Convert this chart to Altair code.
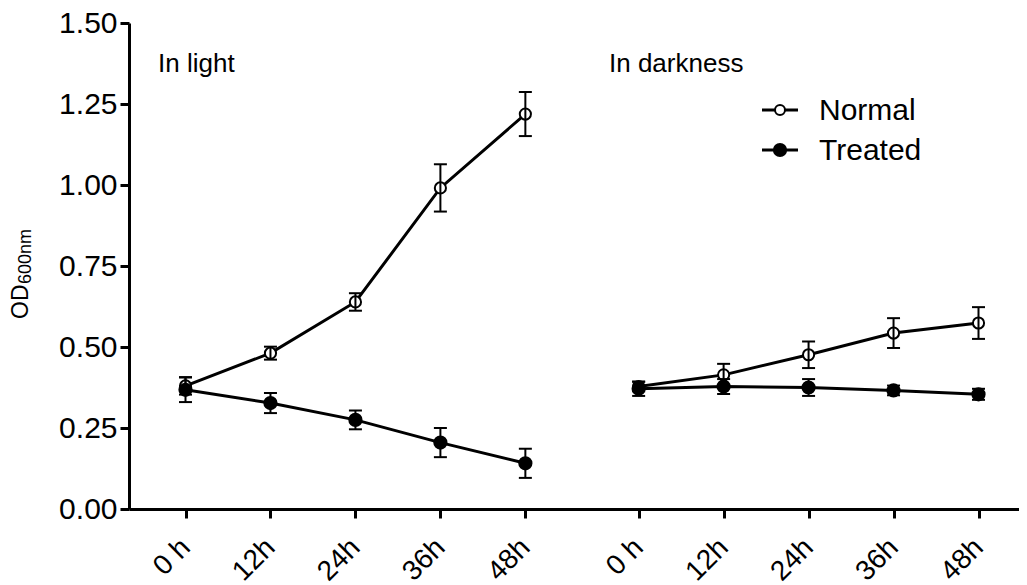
import json
import altair as alt
import pandas as pd

# ---------------- data ----------------
times = ["0 h", "12h", "24h", "36h", "48h"]
conditions = ["In light", "In darkness"]
series = ["Normal", "Treated"]

light_normal = [0.380, 0.481, 0.639, 0.991, 1.219]
light_normal_err = [0.027, 0.020, 0.027, 0.073, 0.068]
light_treated = [0.368, 0.327, 0.275, 0.205, 0.141]
light_treated_err = [0.038, 0.031, 0.029, 0.045, 0.045]
dark_normal = [0.378, 0.414, 0.476, 0.543, 0.574]
dark_normal_err = [0.015, 0.034, 0.041, 0.046, 0.049]
dark_treated = [0.371, 0.378, 0.375, 0.366, 0.354]
dark_treated_err = [0.022, 0.023, 0.026, 0.015, 0.017]

y_ticks = [0.0, 0.25, 0.5, 0.75, 1.0, 1.25, 1.5]

table = {
    ("In light", "Normal"): (light_normal, light_normal_err),
    ("In light", "Treated"): (light_treated, light_treated_err),
    ("In darkness", "Normal"): (dark_normal, dark_normal_err),
    ("In darkness", "Treated"): (dark_treated, dark_treated_err),
}

# layout: gap (in tick spacings) between the last light time and first dark time
GROUP_GAP = 4.0 / 3.0
GROUP_STEP = len(times) - 1 + GROUP_GAP

rows = []
for s in series:
    for ci, cond in enumerate(conditions):
        vals, errs = table[(cond, s)]
        for i, (v, e) in enumerate(zip(vals, errs)):
            rows.append({
                "condition": cond,
                "series": s,
                "key": cond + "|" + s,
                "time": times[i],
                "pos": i + ci * GROUP_STEP,
                "od": v,
                "err": e,
            })
df = pd.DataFrame(rows)

tick_vals = sorted(df["pos"].unique().tolist())
label_expr = (
    json.dumps(times)
    + "[datum.value < %f ? round(datum.value) : round(datum.value - %f)]"
    % (len(times) - 0.5, GROUP_STEP)
)

FONT = "Liberation Sans"
W, H = 890, 486

xscale = alt.Scale(domain=[-0.665, 9.81], nice=False, zero=False)
yscale = alt.Scale(domain=[0, 1.5], nice=False, zero=True)

xaxis = alt.Axis(
    values=tick_vals, labelExpr=label_expr, labelAngle=-45, labelFontSize=28,
    labelAlign="right", labelBaseline="middle",
    labelFont=FONT, labelColor="black", domainColor="black", domainWidth=3,
    tickColor="black", tickWidth=3, tickSize=9, labelPadding=25, grid=False,
    title=None, labelOverlap=False, labelFlush=False,
)
yaxis = alt.Axis(
    values=y_ticks, format=".2f", labelFontSize=30, labelFont=FONT,
    labelColor="black", domainColor="black", domainWidth=3, tickColor="black",
    tickWidth=3, tickSize=9, labelPadding=3, grid=False, title=None,
    labelFlush=False, labelOverlap=False,
)

base = alt.Chart(df)
X = alt.X("pos:Q", scale=xscale, axis=xaxis)
Y = alt.Y("od:Q", scale=yscale, axis=yaxis)

lines = base.mark_line(color="black", strokeWidth=3).encode(
    x=X, y=Y, detail="key:N", order="pos:Q"
)

errbars = base.transform_calculate(
    lo="datum.od - datum.err", hi="datum.od + datum.err"
)
err_v = errbars.mark_rule(color="black", strokeWidth=2).encode(
    x=alt.X("pos:Q", scale=xscale), y=alt.Y("lo:Q", scale=yscale), y2="hi:Q"
)
cap_lo = errbars.mark_rule(color="black", strokeWidth=2, xOffset=-6.5, x2Offset=6.5).encode(
    x=alt.X("pos:Q", scale=xscale), x2=alt.X2("pos"), y=alt.Y("lo:Q", scale=yscale)
)
cap_hi = errbars.mark_rule(color="black", strokeWidth=2, xOffset=-6.5, x2Offset=6.5).encode(
    x=alt.X("pos:Q", scale=xscale), x2=alt.X2("pos"), y=alt.Y("hi:Q", scale=yscale)
)

fill_scale = alt.Scale(domain=series, range=["white", "black"])
points = base.mark_point(
    shape="circle", filled=True, stroke="black", strokeWidth=2, opacity=1
).encode(
    x=alt.X("pos:Q", scale=xscale), y=alt.Y("od:Q", scale=yscale),
    fill=alt.Fill("series:N", scale=fill_scale, legend=None),
    size=alt.Size("series:N", scale=alt.Scale(domain=series, range=[125, 150]), legend=None),
)

# ---------------- annotations ----------------
def label(txt, x, y, size, **kw):
    return alt.Chart(pd.DataFrame({"t": [txt]})).mark_text(
        font=FONT, fontSize=size, color="black", align="left", **kw
    ).encode(text="t:N", x=alt.value(x), y=alt.value(y))

cond_labels = label(conditions[0], 29, 49, 26, baseline="alphabetic") + \
    label(conditions[1], 480, 49, 26, baseline="alphabetic")

ytitle = label("OD", -101, 296, 23, baseline="alphabetic", angle=270) + \
    label("600nm", -98, 261, 18, baseline="alphabetic", angle=270)

# legend
leg_layers = []
leg_y = [87, 127]
for s, yy in zip(series, leg_y):
    d = pd.DataFrame({"series": [s], "t": [s]})
    c = alt.Chart(d)
    leg_layers.append(
        c.mark_rule(color="black", strokeWidth=3).encode(
            x=alt.value(633), x2=alt.value(669), y=alt.value(yy)
        )
    )
    leg_layers.append(
        c.mark_point(shape="circle", filled=True, stroke="black", strokeWidth=2,
                     opacity=1, size=100 if s == "Normal" else 150).encode(
            x=alt.value(651), y=alt.value(yy),
            fill=alt.Fill("series:N", scale=fill_scale, legend=None),
        )
    )
    leg_layers.append(
        c.mark_text(font=FONT, fontSize=30, color="black", align="left",
                    baseline="middle").encode(
            text="t:N", x=alt.value(690), y=alt.value(yy + 1)
        )
    )

chart = alt.layer(
    lines, points, err_v, cap_lo, cap_hi, cond_labels, ytitle, *leg_layers
).properties(
    width=W, height=H,
    autosize=alt.AutoSizeParams(type="none"),
    padding={"left": 121, "top": 15, "right": 0, "bottom": 77},
).configure(
    background="white", view=alt.ViewConfig(stroke=None)
)

chart.save("out.html", embed_options={"renderer": "svg", "actions": False})
